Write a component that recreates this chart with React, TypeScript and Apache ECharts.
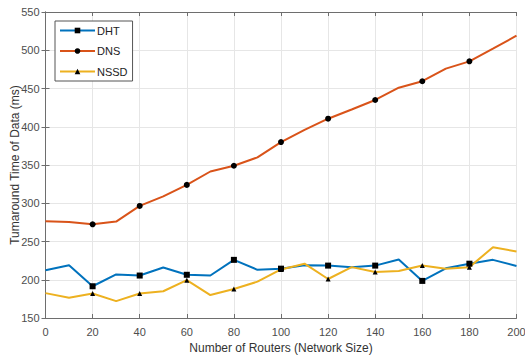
import React, { useEffect, useRef } from "react";
import * as echarts from "echarts";

const routers = [0, 10, 20, 30, 40, 50, 60, 70, 80, 90, 100, 110, 120, 130, 140, 150, 160, 170, 180, 190, 200];
const dht = [212.5, 219, 191.5, 207, 205.5, 216, 206.5, 205.5, 226, 213, 214.5, 219, 218.5, 216.5, 218.5, 226.5, 198.5, 215, 221, 226, 218];
const dns = [276.5, 275.5, 272.5, 276, 296.5, 309, 324, 341.5, 349, 360, 380, 396, 410.5, 422.5, 435, 451, 459.5, 476, 485.5, 502, 519];
const nssd = [182.5, 176.5, 182, 172, 182, 185, 199.5, 180, 188, 197.5, 213.5, 221, 201, 216.5, 210, 211.5, 218.5, 214.5, 216.5, 242.5, 237];

const FONT = "Liberation Sans";

function pairs(vals: number[]) {
  return routers.map((x, i) => [x, vals[i]]);
}

const markerSize = (size: number) => (_v: any, p: any) => {
  const i = p.dataIndex;
  return i % 2 === 0 && i !== 0 && i !== routers.length - 1 ? size : 0;
};

export default function App() {
  const ref = useRef<HTMLDivElement>(null);
  useEffect(() => {
    if (!ref.current) return;
    const chart = echarts.init(ref.current, undefined, { renderer: "svg" });
    const axisLine = { show: true, lineStyle: { color: "#6e6e6e", width: 1 } };
    const labelStyle = { color: "#4d4d4d", fontSize: 11, fontFamily: FONT };
    const mkSeries = (name: string, vals: number[], color: string, symbol: string, size: number) => ({
      name,
      type: "line",
      data: pairs(vals),
      symbol,
      symbolSize: markerSize(size),
      showAllSymbol: true,
      lineStyle: { color, width: 2 },
      itemStyle: { color: "#000" },
      emphasis: { disabled: true },
    });
    chart.setOption({
      animation: false,
      backgroundColor: "#fff",
      grid: { left: 45.5, right: 8.5, top: 12, bottom: 41, outerBoundsMode: "none", containLabel: false },
      legend: {
        orient: "vertical",
        left: 55,
        top: 21,
        padding: [4, 5, 4, 4],
        itemWidth: 35,
        itemHeight: 7,
        itemGap: 9.5,
        borderColor: "#555",
        borderWidth: 1,
        backgroundColor: "#fff",
        textStyle: { color: "#222", fontSize: 11, fontFamily: FONT, padding: [0, 0, 0, -3] },
        data: ["DHT", "DNS", "NSSD"],
      },
      xAxis: [
        {
          type: "value",
          min: 0,
          max: 200,
          interval: 20,
          name: "Number of Routers (Network Size)",
          nameLocation: "middle",
          nameGap: 24,
          nameMoveOverlap: false,
          nameTextStyle: { color: "#333", fontSize: 12, fontFamily: FONT },
          axisLine,
          axisTick: { show: true, inside: true, length: 4, lineStyle: { color: "#6e6e6e" } },
          axisLabel: { ...labelStyle, margin: 8 },
          splitLine: { show: true, lineStyle: { color: "#e6e6e6", width: 1 } },
        },
        {
          type: "value",
          position: "top",
          min: 0,
          max: 200,
          interval: 20,
          axisLine,
          axisTick: { show: true, inside: true, length: 4, lineStyle: { color: "#6e6e6e" } },
          axisLabel: { show: false },
          splitLine: { show: false },
        },
      ],
      yAxis: [
        {
          type: "value",
          min: 150,
          max: 550,
          interval: 50,
          name: "Tumaround Time of Data (ms)",
          nameLocation: "middle",
          nameGap: 25,
          nameMoveOverlap: false,
          nameTextStyle: { color: "#333", fontSize: 12, fontFamily: FONT },
          axisLine,
          axisTick: { show: true, inside: true, length: 4, lineStyle: { color: "#6e6e6e" } },
          axisLabel: { ...labelStyle, margin: 6 },
          splitLine: { show: true, lineStyle: { color: "#e6e6e6", width: 1 } },
        },
        {
          type: "value",
          position: "right",
          min: 150,
          max: 550,
          interval: 50,
          axisLine,
          axisTick: { show: true, inside: true, length: 4, lineStyle: { color: "#6e6e6e" } },
          axisLabel: { show: false },
          splitLine: { show: false },
        },
      ],
      series: [
        mkSeries("DHT", dht, "#0072BD", "rect", 6),
        mkSeries("DNS", dns, "#D95319", "circle", 6),
        mkSeries("NSSD", nssd, "#EDB120", "triangle", 5),
      ],
    });
    return () => chart.dispose();
  }, []);
  return <div ref={ref} style={{ width: 525, height: 359, position: "absolute", left: 0, top: 0 }} />;
}
